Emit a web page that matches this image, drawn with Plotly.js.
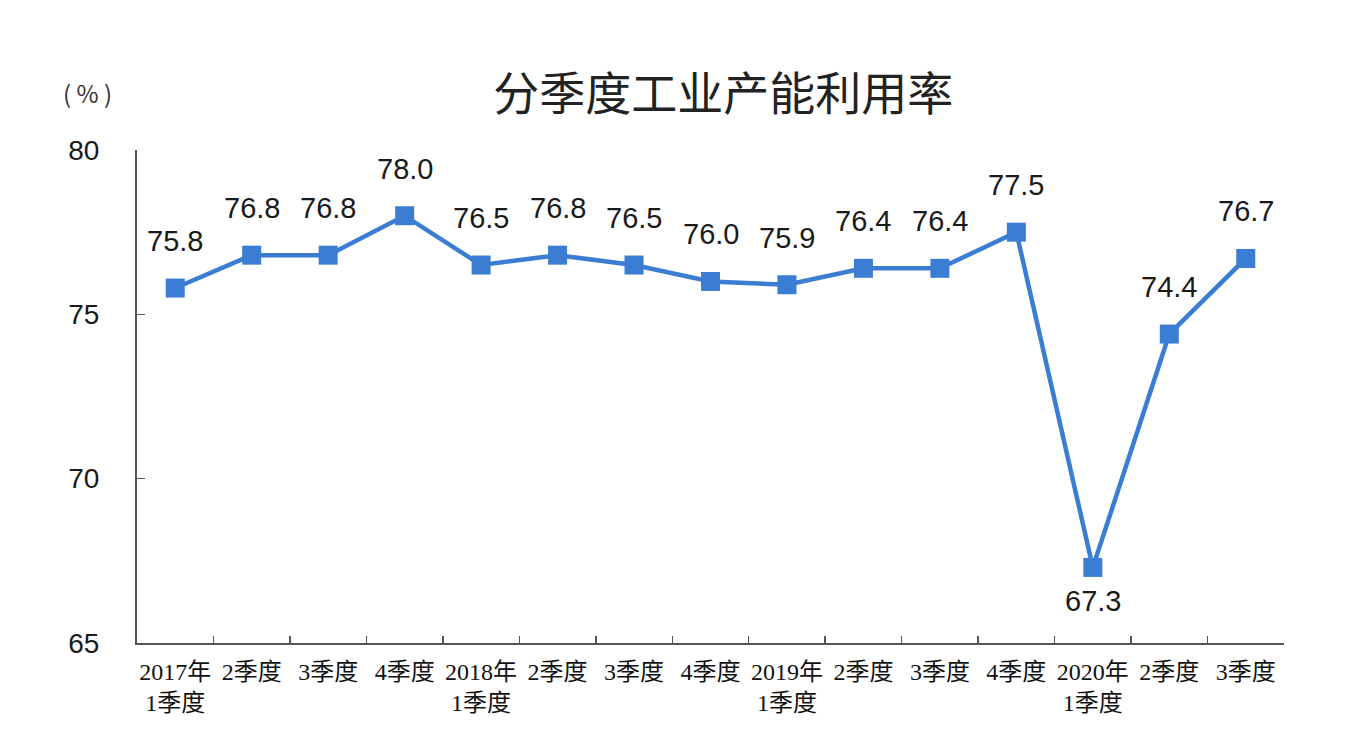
<!DOCTYPE html>
<html>
<head>
<meta charset="utf-8">
<script src="https://cdn.plot.ly/plotly-3.0.1.min.js"></script>
<style>html,body{margin:0;padding:0;background:#fff;}#chart{width:1352px;height:748px;}</style>
</head>
<body>
<div id="chart"></div>
<script>
var categories = ["2017年<br>1季度","2季度","3季度","4季度","2018年<br>1季度","2季度","3季度","4季度","2019年<br>1季度","2季度","3季度","4季度","2020年<br>1季度","2季度","3季度"];
var values = [75.8, 76.8, 76.8, 78.0, 76.5, 76.8, 76.5, 76.0, 75.9, 76.4, 76.4, 77.5, 67.3, 74.4, 76.7];
var labelBelow = [false,false,false,false,false,false,false,false,false,false,false,false,true,false,false];

var xs = categories.map(function(c, i){ return i; });
var boundaries = categories.map(function(c, i){ return i - 0.5; }).concat([categories.length - 0.5]);
var lineColor = "#3A7DD3";

var trace = {
  x: xs, y: values, type: "scatter", mode: "lines+markers",
  xaxis: "x", yaxis: "y",
  line: {color: lineColor, width: 4.5},
  marker: {symbol: "square", size: 19, color: lineColor},
  hoverinfo: "skip"
};
var labelTrace = {
  x: xs, y: values, type: "scatter", mode: "markers",
  xaxis: "x2", yaxis: "y",
  marker: {size: 1, opacity: 0},
  hoverinfo: "skip"
};

var annotations = values.map(function(v, i){
  return {
    x: xs[i], y: v, xref: "x", yref: "y",
    text: v.toFixed(1), showarrow: false,
    yshift: labelBelow[i] ? -34 : 47,
    font: {family: "Liberation Sans, Arial, sans-serif", size: 29, color: "#1a1a1a"}
  };
});
annotations.push({
  xref: "paper", yref: "paper", x: -0.043, y: 1.117, xanchor: "center", yanchor: "middle",
  text: "( % )", showarrow: false,
  font: {family: "Noto Sans CJK SC, sans-serif", size: 24, color: "#333"}
});

var layout = {
  width: 1352, height: 748,
  margin: {l: 137, r: 68, t: 150, b: 105},
  paper_bgcolor: "#ffffff", plot_bgcolor: "#ffffff",
  showlegend: false,
  title: {
    text: "分季度工业产能利用率",
    font: {family: "Noto Sans CJK SC, sans-serif", size: 46, color: "#222"},
    x: 0.535, xanchor: "center", y: 0.875, yanchor: "middle"
  },
  xaxis: {
    range: [-0.5, 14.5],
    tickmode: "array", tickvals: boundaries, ticktext: boundaries.map(function(){ return ""; }),
    ticks: "inside", ticklen: 7, tickcolor: "#555", tickwidth: 1.5,
    showline: true, linecolor: "#555", linewidth: 2,
    showgrid: false, zeroline: false,
    fixedrange: true
  },
  xaxis2: {
    range: [-0.5, 14.5],
    overlaying: "x", anchor: "y", side: "bottom",
    tickmode: "array", tickvals: xs, ticktext: categories,
    ticks: "", showline: false, showgrid: false, zeroline: false,
    ticklabelstandoff: 12,
    tickfont: {family: "Liberation Serif, Noto Sans CJK SC, serif", size: 24, color: "#111"},
    fixedrange: true
  },
  yaxis: {
    range: [65, 80],
    tickvals: [65, 70, 75, 80],
    ticks: "inside", ticklen: 8, tickcolor: "#555", tickwidth: 1.5,
    showline: true, linecolor: "#555", linewidth: 2,
    showgrid: false, zeroline: false,
    ticklabelstandoff: 30,
    tickfont: {family: "Liberation Sans, Arial, sans-serif", size: 28, color: "#1a1a1a"},
    fixedrange: true
  },
  annotations: annotations
};

Plotly.newPlot("chart", [labelTrace, trace], layout, {displayModeBar: false, staticPlot: true});
</script>
</body>
</html>
